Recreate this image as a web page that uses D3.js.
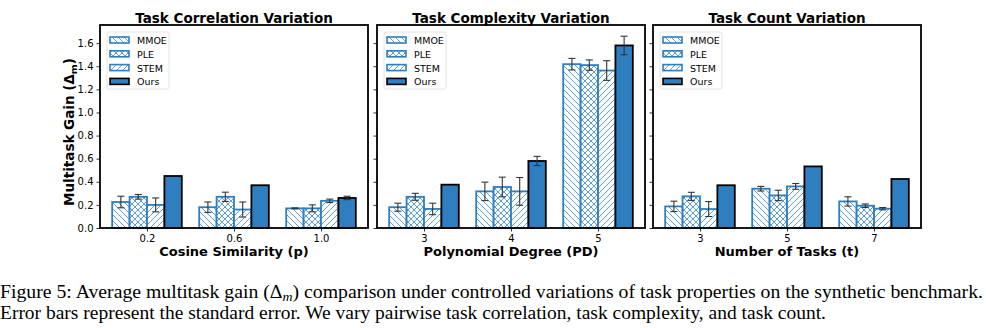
<!DOCTYPE html>
<html>
<head>
<meta charset="utf-8">
<script src="https://cdn.jsdelivr.net/npm/d3@7"></script>
<style>
  body { margin: 0; background: #fff; }
  svg { display: block; }
  .tick text { font-family: "DejaVu Sans", sans-serif; font-size: 10px; fill: #000; }
</style>
</head>
<body>
<svg id="chart" width="986" height="328"></svg>
<script>
// methods compared in every panel
const methods = ['MMOE', 'PLE', 'STEM', 'Ours'];
const hatches = ['back', 'cross', 'fwd', null];

// panel 1: task correlation
const corrCats = ['0.2', '0.6', '1.0'];
const corrMeans = [[0.225, 0.27, 0.20, 0.45], [0.18, 0.27, 0.16, 0.37], [0.17, 0.17, 0.235, 0.26]];
const corrErrs  = [[0.05, 0.02, 0.06, 0.0], [0.045, 0.04, 0.065, 0.0], [0.004, 0.03, 0.015, 0.015]];

// panel 2: task complexity
const degCats = ['3', '4', '5'];
const degMeans = [[0.18, 0.27, 0.165, 0.375], [0.317, 0.355, 0.317, 0.58], [1.418, 1.41, 1.363, 1.58]];
const degErrs  = [[0.035, 0.03, 0.05, 0.0], [0.08, 0.085, 0.12, 0.04], [0.05, 0.045, 0.085, 0.08]];

// panel 3: task count
const countCats = ['3', '5', '7'];
const countMeans = [[0.187, 0.274, 0.164, 0.37], [0.34, 0.282, 0.36, 0.533], [0.23, 0.193, 0.167, 0.424]];
const countErrs  = [[0.045, 0.035, 0.065, 0.0], [0.02, 0.045, 0.025, 0.0], [0.04, 0.015, 0.01, 0.0]];

const yTicks = [0, 0.2, 0.4, 0.6, 0.8, 1.0, 1.2, 1.4, 1.6];

const panels = [
  {title: 'Task Correlation Variation', xlabel: 'Cosine Similarity (p)', cats: corrCats, means: corrMeans, errs: corrErrs, left: 100},
  {title: 'Task Complexity Variation', xlabel: 'Polynomial Degree (PD)', cats: degCats, means: degMeans, errs: degErrs, left: 377},
  {title: 'Task Count Variation', xlabel: 'Number of Tasks (t)', cats: countCats, means: countMeans, errs: countErrs, left: 653}
];

const blue = '#2f7ebf';
const hatchBlue = '#5b9fd6';
const plotTop = 25, plotH = 203, plotW = 268;
const barW = 0.2;
const sans = '"DejaVu Sans", sans-serif';

const svg = d3.select('#chart');
const defs = svg.append('defs');

// hatch fills
function makeHatch(id, lines) {
  const p = defs.append('pattern')
    .attr('id', id)
    .attr('patternUnits', 'userSpaceOnUse')
    .attr('width', 6).attr('height', 6);
  p.append('rect').attr('width', 6).attr('height', 6).attr('fill', '#fff');
  lines.forEach(l => p.append('path').attr('d', l)
    .attr('stroke', hatchBlue).attr('stroke-width', 1).attr('fill', 'none'));
}
makeHatch('back', ['M0,0L6,6', 'M-3,3L3,9', 'M3,-3L9,3']);
makeHatch('fwd', ['M0,6L6,0', 'M-3,3L3,-3', 'M3,9L9,3']);
makeHatch('cross', ['M0,0L6,6', 'M-3,3L3,9', 'M3,-3L9,3', 'M0,6L6,0', 'M-3,3L3,-3', 'M3,9L9,3']);

const y = d3.scaleLinear().domain([0, 1.757]).range([plotTop + plotH, plotTop]);

panels.forEach((pn, pi) => {
  const x = d3.scaleLinear().domain([-0.54, 2.54]).range([pn.left, pn.left + plotW]);
  const g = svg.append('g');

  // bars
  pn.cats.forEach((c, ci) => {
    methods.forEach((m, mi) => {
      const xc = ci + (mi - 1.5) * barW;
      const v = pn.means[ci][mi];
      const x0 = x(xc - barW / 2), x1 = x(xc + barW / 2);
      const isOurs = hatches[mi] === null;
      g.append('rect')
        .attr('x', x0).attr('y', y(v))
        .attr('width', x1 - x0).attr('height', y(0) - y(v))
        .attr('fill', isOurs ? blue : 'url(#' + hatches[mi] + ')')
        .attr('stroke', isOurs ? '#000' : blue)
        .attr('stroke-width', 1.8);
    });
  });

  // error bars
  pn.cats.forEach((c, ci) => {
    methods.forEach((m, mi) => {
      const e = pn.errs[ci][mi];
      if (e <= 0) return;
      const xc = x(ci + (mi - 1.5) * barW);
      const v = pn.means[ci][mi];
      const eg = g.append('g').attr('stroke', '#333').attr('stroke-width', 1.1);
      eg.append('line').attr('x1', xc).attr('x2', xc).attr('y1', y(v - e)).attr('y2', y(v + e));
      [v - e, v + e].forEach(yy => eg.append('line')
        .attr('x1', xc - 3.5).attr('x2', xc + 3.5).attr('y1', y(yy)).attr('y2', y(yy)));
    });
  });

  // axes
  const yAxis = d3.axisLeft(y).tickValues(yTicks).tickSize(3.5).tickPadding(3)
    .tickFormat(pi === 0 ? d3.format('.1f') : () => '');
  const ya = g.append('g').attr('transform', 'translate(' + pn.left + ',0)').call(yAxis);
  ya.select('.domain').remove();
  ya.selectAll('.tick line').attr('stroke', '#000').attr('stroke-width', 0.8);

  const xAxis = d3.axisBottom(x).tickValues([0, 1, 2]).tickSize(3.5).tickPadding(3)
    .tickFormat(i => pn.cats[i]);
  const xa = g.append('g').attr('transform', 'translate(0,' + (plotTop + plotH) + ')').call(xAxis);
  xa.select('.domain').remove();
  xa.selectAll('.tick line').attr('stroke', '#000').attr('stroke-width', 0.8);

  // frame
  g.append('rect')
    .attr('x', pn.left).attr('y', plotTop).attr('width', plotW).attr('height', plotH)
    .attr('fill', 'none').attr('stroke', '#000').attr('stroke-width', 1.8);

  // title and x label
  g.append('text')
    .attr('x', pn.left + plotW / 2).attr('y', 23)
    .attr('text-anchor', 'middle')
    .style('font-family', sans).style('font-weight', 'bold').style('font-size', '13.5px')
    .text(pn.title);
  g.append('text')
    .attr('x', pn.left + plotW / 2).attr('y', 256)
    .attr('text-anchor', 'middle')
    .style('font-family', sans).style('font-weight', 'bold').style('font-size', '13px')
    .text(pn.xlabel);

  // legend
  const lg = g.append('g').attr('transform', 'translate(' + (pn.left + 7) + ',' + (plotTop + 7) + ')');
  lg.append('rect').attr('width', 62).attr('height', 57).attr('rx', 2)
    .attr('fill', '#fff').attr('stroke', '#ddd').attr('stroke-width', 0.8);
  methods.forEach((m, mi) => {
    const ry = 5 + mi * 13.8;
    const isOurs = hatches[mi] === null;
    lg.append('rect')
      .attr('x', 3).attr('y', ry).attr('width', 19).attr('height', 6)
      .attr('fill', isOurs ? blue : 'url(#' + hatches[mi] + ')')
      .attr('stroke', isOurs ? '#000' : blue).attr('stroke-width', 1.6);
    lg.append('text')
      .attr('x', 30).attr('y', ry + 7)
      .style('font-family', sans).style('font-size', '9.5px')
      .text(m);
  });
});

// y label
const yl = svg.append('text')
  .attr('transform', 'translate(74,132) rotate(-90)')
  .attr('text-anchor', 'middle')
  .style('font-family', sans).style('font-weight', 'bold').style('font-size', '13.5px');
yl.append('tspan').text('Multitask Gain (\u0394');
yl.append('tspan').attr('dy', 2.5).style('font-size', '9.5px').text('m');
yl.append('tspan').attr('dy', -2.5).text(')');

// caption
const cap = svg.append('g')
  .style('font-family', '"Liberation Serif", "Times New Roman", serif').style('font-size', '18.5px');
const c1 = cap.append('text').attr('x', 0).attr('y', 298)
  .attr('textLength', 983).attr('lengthAdjust', 'spacingAndGlyphs');
c1.append('tspan').text('Figure 5: Average multitask gain (\u0394');
c1.append('tspan').attr('dy', 3).style('font-size', '13px').style('font-style', 'italic').text('m');
c1.append('tspan').attr('dy', -3).text(') comparison under controlled variations of task properties on the synthetic benchmark.');
cap.append('text').attr('x', 0).attr('y', 319)
  .attr('textLength', 826).attr('lengthAdjust', 'spacingAndGlyphs')
  .text('Error bars represent the standard error. We vary pairwise task correlation, task complexity, and task count.');
</script>
</body>
</html>
